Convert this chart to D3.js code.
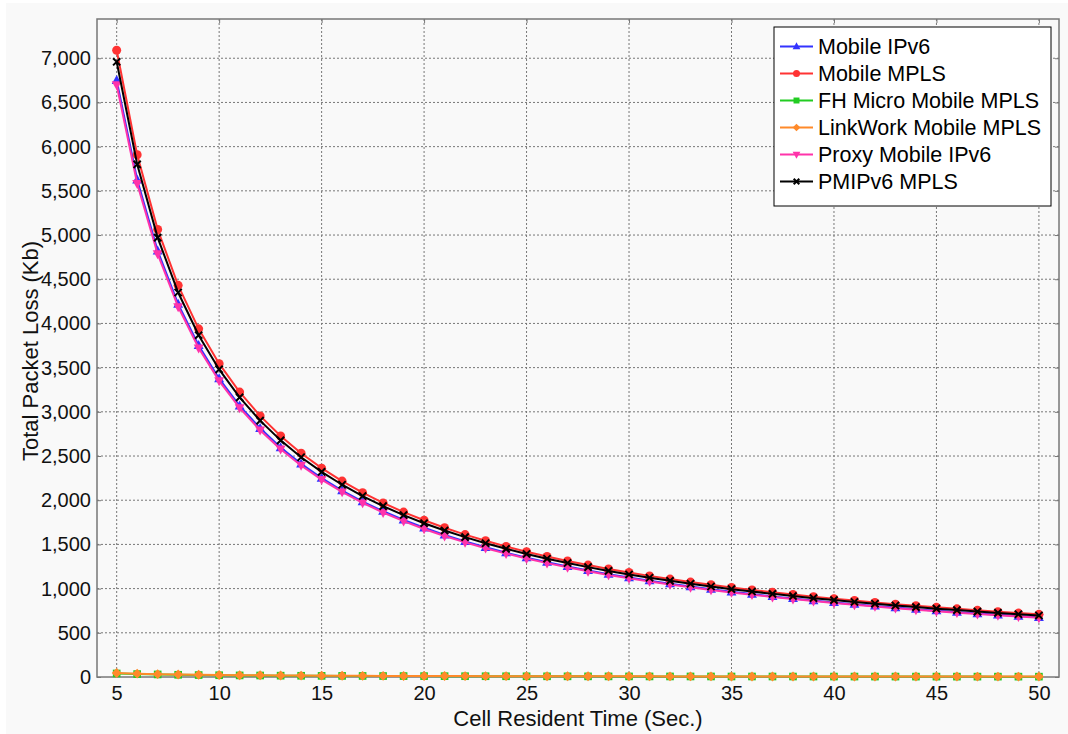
<!DOCTYPE html>
<html><head><meta charset="utf-8">
<script src="https://cdn.jsdelivr.net/npm/d3@7"></script>
<style>body{margin:0;background:#fff;}svg{display:block;font-family:"Liberation Sans",Arial,sans-serif;}</style>
</head><body><svg id="c" width="1068" height="734"></svg>
<script>
const xValues = [5,6,7,8,9,10,11,12,13,14,15,16,17,18,19,20,21,22,23,24,25,26,27,28,29,30,31,32,33,34,35,36,37,38,39,40,41,42,43,44,45,46,47,48,49,50];
const mobileIPv6 = [6750,5625,4821,4219,3750,3375,3068,2813,2596,2411,2250,2109,1985,1875,1776,1688,1607,1534,1467,1406,1350,1298,1250,1205,1164,1125,1089,1055,1023,993,964,938,912,888,865,844,823,804,785,767,750,734,718,703,689,675];
const mobileMPLS = [7090,5908,5064,4431,3939,3545,3223,2954,2727,2532,2363,2216,2085,1969,1866,1773,1688,1611,1541,1477,1418,1363,1313,1266,1222,1182,1144,1108,1074,1043,1013,985,958,933,909,886,865,844,824,806,788,771,754,739,723,709];
const fhMicroMPLS = [40,33,29,25,22,20,18,17,15,14,13,12.5,12,11,10.5,10,9.5,9,8.7,8.3,8,7.7,7.4,7.1,6.9,6.7,6.5,6.3,6.1,5.9,5.7,5.6,5.4,5.3,5.1,5,4.9,4.8,4.7,4.5,4.4,4.3,4.3,4.2,4.1,4];
const linkWorkMPLS = [45,38,32,28,25,23,20,19,17,16,15,14,13,12.5,12,11,10.7,10.2,9.8,9.4,9,8.7,8.3,8,7.8,7.5,7.3,7,6.8,6.6,6.4,6.3,6.1,5.9,5.8,5.6,5.5,5.4,5.2,5.1,5,4.9,4.8,4.7,4.6,4.5];
const proxyMobileIPv6 = [6700,5583,4786,4188,3722,3350,3045,2792,2577,2393,2233,2094,1971,1861,1763,1675,1595,1523,1457,1396,1340,1288,1241,1196,1155,1117,1081,1047,1015,985,957,931,905,882,859,838,817,798,779,761,744,728,713,698,684,670];
const pmipv6MPLS = [6960,5800,4971,4350,3867,3480,3164,2900,2677,2486,2320,2175,2047,1933,1832,1740,1657,1582,1513,1450,1392,1338,1289,1243,1200,1160,1123,1088,1055,1024,994,967,941,916,892,870,849,829,809,791,773,757,740,725,710,696];
const seriesNames = ["Mobile IPv6","Mobile MPLS","FH Micro Mobile MPLS","LinkWork Mobile MPLS","Proxy Mobile IPv6","PMIPv6 MPLS"];
const seriesColors = ["#3333ff","#ff3333","#22cc22","#ff8a2a","#ff33aa","#000000"];
const seriesMarkers = ["triUp","circle","square","diamond","triDown","cross"];
const xTicks = [5,10,15,20,25,30,35,40,45,50];
const yTicks = [0,500,1000,1500,2000,2500,3000,3500,4000,4500,5000,5500,6000,6500,7000];
const xTitle = "Cell Resident Time (Sec.)";
const yTitle = "Total Packet Loss (Kb)";

const data = [mobileIPv6, mobileMPLS, fhMicroMPLS, linkWorkMPLS, proxyMobileIPv6, pmipv6MPLS];
const svg = d3.select("#c");
svg.append("rect").attr("x",6).attr("y",3).attr("width",1062).attr("height",731).attr("fill","#f9f9f9");

const L=97, T=19, R=1059, B=677;
const x = d3.scaleLinear().domain([4.04,50.98]).range([L,R]);
const y = d3.scaleLinear().domain([0,7444]).range([B,T]);

// grid
const g = svg.append("g");
g.selectAll(".gx").data(xTicks).join("line").attr("x1",d=>x(d)).attr("x2",d=>x(d)).attr("y1",T).attr("y2",B)
 .attr("stroke","#777").attr("stroke-width",1).attr("stroke-dasharray","2,2");
g.selectAll(".gy").data(yTicks.filter(d=>d>0)).join("line").attr("y1",d=>y(d)).attr("y2",d=>y(d)).attr("x1",L).attr("x2",R)
 .attr("stroke","#777").attr("stroke-width",1).attr("stroke-dasharray","2,2");

// axes
const fmt = d3.format(",");
const ax = svg.append("g").attr("transform",`translate(0,${B})`).call(d3.axisBottom(x).tickValues(xTicks).tickSize(-4).tickPadding(9));
const ay = svg.append("g").attr("transform",`translate(${L},0)`).call(d3.axisLeft(y).tickValues(yTicks).tickFormat(fmt).tickSize(-4).tickPadding(6));
const axT = svg.append("g").attr("transform",`translate(0,${T})`).call(d3.axisTop(x).tickValues(xTicks).tickSize(-4).tickFormat(""));
const ayR = svg.append("g").attr("transform",`translate(${R},0)`).call(d3.axisRight(y).tickValues(yTicks).tickSize(-4).tickFormat(""));
[ax,ay,axT,ayR].forEach(a=>{a.select(".domain").remove(); a.selectAll(".tick line").attr("stroke","#777");
  a.selectAll("text").attr("font-size",20).attr("fill","#111").attr("font-family","Liberation Sans, Arial, sans-serif");});
svg.append("rect").attr("x",L).attr("y",T).attr("width",R-L).attr("height",B-T).attr("fill","none").attr("stroke","#777").attr("stroke-width",1.5);

svg.append("text").attr("x",(L+R)/2).attr("y",726).attr("text-anchor","middle").attr("font-size",22).attr("fill","#111").text(xTitle);
svg.append("text").attr("transform",`translate(38,351) rotate(-90)`).attr("text-anchor","middle").attr("font-size",22).attr("fill","#111").text(yTitle);

function marker(sel, type, color, s){
  if(type==="circle") sel.append("circle").attr("r",s).attr("fill",color);
  else if(type==="square") sel.append("rect").attr("x",-s*0.85).attr("y",-s*0.85).attr("width",s*1.7).attr("height",s*1.7).attr("fill",color);
  else if(type==="diamond") sel.append("path").attr("d",`M0,${-s*1.1}L${s*1.1},0L0,${s*1.1}L${-s*1.1},0Z`).attr("fill",color);
  else if(type==="triUp") sel.append("path").attr("d",`M0,${-s*1.2}L${s*1.1},${s*0.8}L${-s*1.1},${s*0.8}Z`).attr("fill",color);
  else if(type==="triDown") sel.append("path").attr("d",`M0,${s*1.2}L${s*1.1},${-s*0.8}L${-s*1.1},${-s*0.8}Z`).attr("fill",color);
  else if(type==="cross") sel.append("path").attr("d",`M${-s*0.8},${-s*0.8}L${s*0.8},${s*0.8}M${s*0.8},${-s*0.8}L${-s*0.8},${s*0.8}`).attr("stroke",color).attr("stroke-width",2).attr("fill","none");
}

const line = d3.line().x((d,i)=>x(xValues[i])).y(d=>y(d));
const order = [2,3,0,4,1,5];
const plot = svg.append("g");
order.forEach(k=>{
  const sg = plot.append("g");
  sg.append("path").datum(data[k]).attr("d",line).attr("fill","none").attr("stroke",seriesColors[k]).attr("stroke-width",2);
  data[k].forEach((v,i)=>{
    const m = sg.append("g").attr("transform",`translate(${x(xValues[i])},${y(v)})`);
    marker(m, seriesMarkers[k], seriesColors[k], 4.5);
  });
});

// legend
const lg = svg.append("g");
lg.append("rect").attr("x",774).attr("y",27).attr("width",277).attr("height",179).attr("fill","#fff").attr("stroke","#000").attr("stroke-width",1);
seriesNames.forEach((n,i)=>{
  const yy = 46.5 + i*27;
  lg.append("line").attr("x1",780).attr("x2",813).attr("y1",yy).attr("y2",yy).attr("stroke",seriesColors[i]).attr("stroke-width",2);
  const m = lg.append("g").attr("transform",`translate(796.5,${yy})`);
  marker(m, seriesMarkers[i], seriesColors[i], 3.5);
  lg.append("text").attr("x",818).attr("y",yy+7.5).attr("font-size",21.5).attr("fill","#000").text(n);
});
</script></body></html>
